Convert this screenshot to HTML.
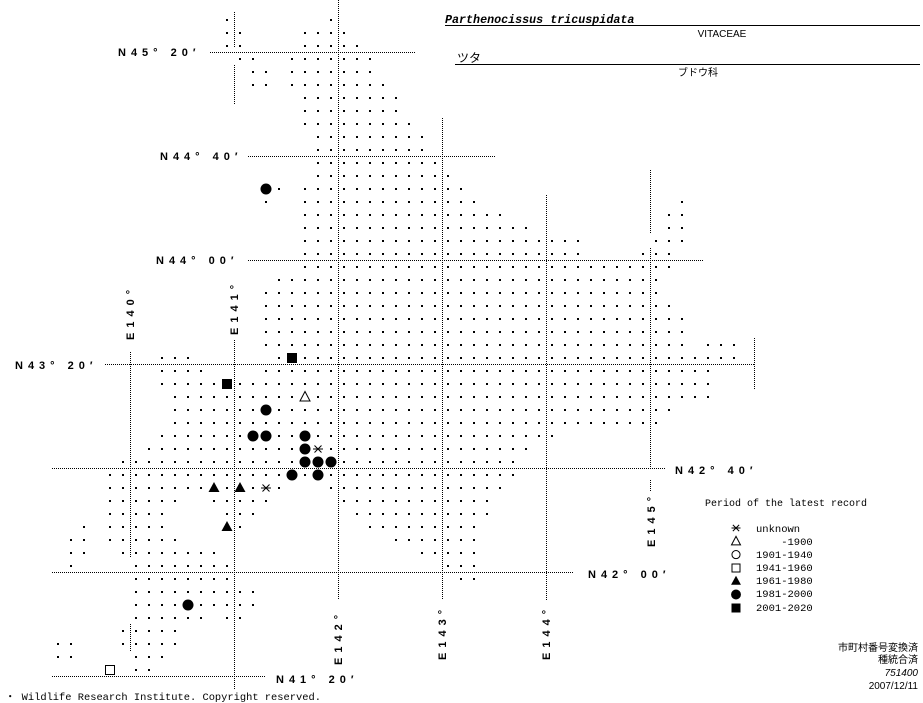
<!DOCTYPE html>
<html><head><meta charset="utf-8">
<style>
html,body{margin:0;padding:0;background:#fff;}
svg{display:block;}
.lab{font-family:"Liberation Sans",sans-serif;font-weight:bold;font-size:11px;letter-spacing:5px;fill:#000;}
.mono{font-family:"Liberation Mono",monospace;font-size:10px;fill:#000;}
.jp{font-family:"Liberation Sans","Noto Sans CJK JP",sans-serif;font-size:10px;fill:#000;}
</style></head>
<body>
<svg id="s" width="923" height="703" xmlns="http://www.w3.org/2000/svg" shape-rendering="crispEdges">
<g stroke="#000" stroke-width="1" stroke-dasharray="1 1" fill="none">
<line x1="210" y1="52.5" x2="415" y2="52.5"/>
<line x1="234.5" y1="12" x2="234.5" y2="48"/>
<line x1="234.5" y1="65" x2="234.5" y2="105"/>
<line x1="338.5" y1="0" x2="338.5" y2="600"/>
<line x1="248" y1="156.5" x2="495" y2="156.5"/>
<line x1="442.5" y1="118" x2="442.5" y2="600"/>
<line x1="248" y1="260.5" x2="703" y2="260.5"/>
<line x1="546.5" y1="195" x2="546.5" y2="600"/>
<line x1="650.5" y1="170" x2="650.5" y2="234"/>
<line x1="650.5" y1="248" x2="650.5" y2="470"/>
<line x1="650.5" y1="480" x2="650.5" y2="492"/>
<line x1="105" y1="364.5" x2="754" y2="364.5"/>
<line x1="754.5" y1="338" x2="754.5" y2="390"/>
<line x1="130.5" y1="352" x2="130.5" y2="558"/>
<line x1="130.5" y1="624" x2="130.5" y2="651"/>
<line x1="234.5" y1="340" x2="234.5" y2="690"/>
<line x1="52" y1="468.5" x2="665" y2="468.5"/>
<line x1="52" y1="572.5" x2="573" y2="572.5"/>
<line x1="52" y1="676.5" x2="265" y2="676.5"/>
</g>
<g id="dots" fill="#000"></g>
<g class="lab">
<text x="118" y="56">N45° 20′</text>
<text x="160" y="160">N44° 40′</text>
<text x="156" y="264">N44° 00′</text>
<text x="15" y="369">N43° 20′</text>
<text x="675" y="474">N42° 40′</text>
<text x="588" y="578">N42° 00′</text>
<text x="276" y="683">N41° 20′</text>
<text transform="translate(134,340) rotate(-90)">E140°</text>
<text transform="translate(238,335) rotate(-90)">E141°</text>
<text transform="translate(342,665) rotate(-90)">E142°</text>
<text transform="translate(446,660) rotate(-90)">E143°</text>
<text transform="translate(550,660) rotate(-90)">E144°</text>
<text transform="translate(655,547) rotate(-90)">E145°</text>
</g>
<text x="445" y="23" style="font-family:'Liberation Mono',monospace;font-weight:bold;font-style:italic;font-size:11.7px">Parthenocissus tricuspidata</text>
<line x1="445" y1="25.5" x2="920" y2="25.5" stroke="#000"/>
<text x="722" y="37" class="jp" text-anchor="middle">VITACEAE</text>
<text x="457" y="62" class="jp" style="font-size:12px">ツタ</text>
<line x1="455" y1="64.5" x2="920" y2="64.5" stroke="#000"/>
<text x="698" y="76" class="jp" text-anchor="middle">ブドウ科</text>
<text x="705" y="506" class="mono">Period of the latest record</text>
<g class="mono" style="font-size:10.5px">
<text x="756" y="532">unknown</text>
<text x="756" y="545" xml:space="preserve">    -1900</text>
<text x="756" y="558">1901-1940</text>
<text x="756" y="571">1941-1960</text>
<text x="756" y="584">1961-1980</text>
<text x="756" y="597">1981-2000</text>
<text x="756" y="611">2001-2020</text>
</g>
<g id="leg"></g>
<g class="jp" text-anchor="end">
<text x="918" y="651">市町村番号変換済</text>
<text x="918" y="663">種統合済</text>
<text x="918" y="676" style="font-style:italic">751400</text>
<text x="918" y="689">2007/12/11</text>
</g>
<text x="5" y="700" class="mono" style="font-size:10.4px">・ Wildlife Research Institute. Copyright reserved.</text>
</svg>
<script>
var R={0:[[9],[17]],1:[[9,10],[15,18]],2:[[9,10],[15,19]],3:[[10,11],[14,20]],4:[[11,12],[14,20]],5:[[11,12],[14,21]],
6:[[15,22]],7:[[15,22]],8:[[15,23]],9:[[16,24]],10:[[16,24]],11:[[16,25]],12:[[16,26]],13:[[13],[15,27]],
14:[[12],[15,28],[44]],15:[[15,30],[43,44]],16:[[15,32],[43,44]],17:[[15,36],[42,44]],18:[[15,36],[41,43]],
19:[[15,43]],20:[[13,42]],21:[[12,42]],22:[[12,43]],23:[[12,44]],24:[[12,44]],25:[[12,44],[46,48]],
26:[[4,6],[13,48]],27:[[4,7],[12,46]],28:[[4,46]],29:[[5,46]],30:[[5,43]],31:[[5,42]],32:[[4,34]],
33:[[3,32]],34:[[1,31]],35:[[0,31]],36:[[0,13],[17,30]],37:[[0,5],[8,12],[18,29]],38:[[0,4],[9,11],[19,29]],
39:[[-2],[0,4],[9,10],[20,28]],40:[[-3,-2],[0,5],[22,28]],41:[[-3,-2],[1,8],[24,28]],42:[[-3],[2,9],[26,28]],
43:[[2,9],[27,28]],44:[[2,11]],45:[[2,11]],46:[[2,7],[9,10]],47:[[1,5]],48:[[-4,-3],[1,5]],49:[[-4,-3],[2,4]],50:[[2,3]]};
var S={"12,13":"C","14,26":"Q","9,28":"Q","15,29":"t","12,30":"C","11,32":"C","12,32":"C","15,32":"C",
"15,33":"C","16,33":"A","15,34":"C","16,34":"C","17,34":"C","14,35":"C","16,35":"C",
"8,36":"T","10,36":"T","12,36":"A","9,39":"T","6,45":"C","0,50":"q"};
var NS="http://www.w3.org/2000/svg",g=document.getElementById("dots");
function el(t,a,p){var e=document.createElementNS(NS,t);for(var k in a)e.setAttribute(k,a[k]);(p||g).appendChild(e);return e;}
function sym(type,x,y,sc,p){sc=sc||1;
 if(type=="C")el("circle",{cx:x,cy:y,r:5.5*sc,"shape-rendering":"auto"},p);
 else if(type=="Q")el("rect",{x:x-5*sc,y:y-5*sc,width:10*sc,height:10*sc},p);
 else if(type=="q")el("rect",{x:x-4.5*sc,y:y-4.5*sc,width:9*sc,height:9*sc,fill:"none",stroke:"#000"},p);
 else if(type=="T")el("polygon",{points:(x-5.5*sc)+","+(y+4*sc)+" "+(x+5.5*sc)+","+(y+4*sc)+" "+x+","+(y-6*sc),"shape-rendering":"auto"},p);
 else if(type=="t")el("polygon",{points:(x-5*sc)+","+(y+4*sc)+" "+(x+5*sc)+","+(y+4*sc)+" "+x+","+(y-5.5*sc),fill:"none",stroke:"#000","shape-rendering":"auto"},p);
 else if(type=="A"){var s=5*sc;el("path",{d:"M"+(x-s)+" "+y+"H"+(x+s)+"M"+(x-s*0.7)+" "+(y-s*0.7)+"L"+(x+s*0.7)+" "+(y+s*0.7)+"M"+(x-s*0.7)+" "+(y+s*0.7)+"L"+(x+s*0.7)+" "+(y-s*0.7),stroke:"#000",fill:"none","shape-rendering":"auto"},p);}
 else if(type=="o")el("circle",{cx:x,cy:y,r:4.5*sc,fill:"none",stroke:"#000","shape-rendering":"auto"},p);
}
for(var j in R){R[j].forEach(function(r){var a=r[0],b=r.length>1?r[1]:r[0];for(var k=a;k<=b;k++){
 var x=110+13*k,y=19.5+13*j;if(!S[k+","+j])el("rect",{x:x-1,y:Math.round(y)-1,width:2,height:2});}});}
for(var key in S){var p=key.split(",");sym(S[key],110+13*p[0],Math.round(19.5+13*p[1]),1);}
var L=document.getElementById("leg"),ts=["A","t","o","q","T","C","Q"];
ts.forEach(function(t,i){sym(t,736,528+13.3*i,0.9,L);});
</script>
</body></html>
